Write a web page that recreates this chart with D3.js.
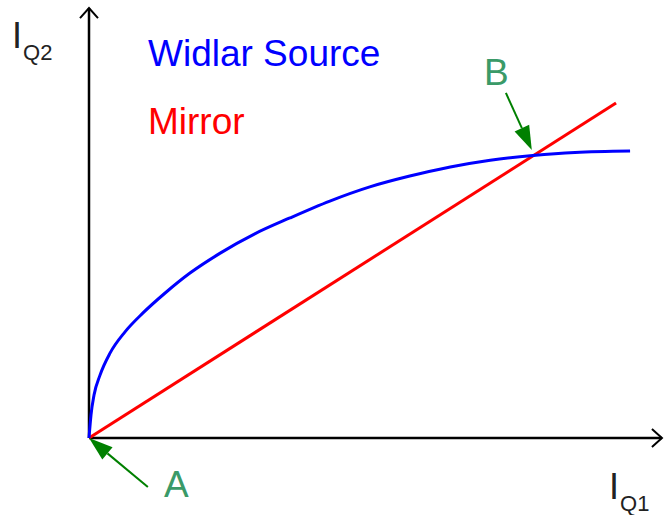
<!DOCTYPE html>
<html>
<head>
<meta charset="utf-8">
<script src="https://cdn.jsdelivr.net/npm/d3@7"></script>
<style>
  body { margin: 0; background: #fff; }
  text { font-family: "Liberation Sans", Arial, sans-serif; }
</style>
</head>
<body>
<svg width="664" height="515"></svg>
<script>
// blue curve (Widlar source), arbitrary units
let widlarX = [0, 0.37, 0.93, 2.04, 3.89, 6.67, 10.0, 14.1, 18.7, 24.3, 30.7, 37.2, 44.6, 52.0, 59.4, 66.9, 74.3, 82.2, 90.0, 100.2]
let widlarY = [0, 6.8, 12.7, 18.6, 25.1, 31.4, 37.0, 42.9, 48.8, 54.7, 60.4, 65.1, 70.1, 74.3, 77.5, 80.2, 82.2, 83.6, 84.5, 84.9]

// red line (mirror)
let mirrorX = [0, 97.6]
let mirrorY = [0, 99.1]

// annotation arrows: [tailX, tailY, tipX, tipY]
let arrowA = [10.9, -14.5, 0, 0]
let arrowB = [77.2, 102.1, 82.0, 85.2]

let svg = d3.select('svg')

let scale = {
    x: d3.scaleLinear().domain([0, 100]).range([89, 629]),
    y: d3.scaleLinear().domain([0, 100]).range([438, 100])
}

let axisEnd = { x: 106.1, y: 127.2 }

// axes
let axes = svg.append('g')
    .attr('stroke', '#000')
    .attr('stroke-width', 2.5)
    .attr('fill', 'none')

axes.append('line')
    .attr('x1', scale.x(0)).attr('y1', scale.y(0))
    .attr('x2', scale.x(axisEnd.x)).attr('y2', scale.y(0))

axes.append('line')
    .attr('x1', scale.x(0)).attr('y1', scale.y(0))
    .attr('x2', scale.x(0)).attr('y2', scale.y(axisEnd.y))

// open arrow heads
let xe = scale.x(axisEnd.x), y0 = scale.y(0)
axes.append('path')
    .attr('stroke-width', 2)
    .attr('d', `M${xe - 10},${y0 - 9}L${xe},${y0}L${xe - 10},${y0 + 9}`)
let x0 = scale.x(0), ye = scale.y(axisEnd.y)
axes.append('path')
    .attr('stroke-width', 2)
    .attr('d', `M${x0 - 9},${ye + 10}L${x0},${ye}L${x0 + 9},${ye + 10}`)

// curves
let line = d3.line()
    .x(d => scale.x(d[0]))
    .y(d => scale.y(d[1]))

svg.append('path')
    .datum(d3.zip(mirrorX, mirrorY))
    .attr('fill', 'none')
    .attr('stroke', '#ff0000')
    .attr('stroke-width', 3)
    .attr('d', line)

svg.append('path')
    .datum(d3.zip(widlarX, widlarY))
    .attr('fill', 'none')
    .attr('stroke', '#0000ff')
    .attr('stroke-width', 3)
    .attr('d', line.curve(d3.curveMonotoneX))

// green arrows
function drawArrow(a) {
    let tx = scale.x(a[0]), ty = scale.y(a[1])
    let hx = scale.x(a[2]), hy = scale.y(a[3])
    let ang = Math.atan2(hy - ty, hx - tx)
    let len = 24, half = 8
    let bx = hx - len * Math.cos(ang), by = hy - len * Math.sin(ang)
    svg.append('line')
        .attr('x1', tx).attr('y1', ty)
        .attr('x2', bx).attr('y2', by)
        .attr('stroke', '#008000')
        .attr('stroke-width', 2)
    let px = -Math.sin(ang) * half, py = Math.cos(ang) * half
    svg.append('path')
        .attr('fill', '#008000')
        .attr('d', `M${hx},${hy}L${bx + px},${by + py}L${bx - px},${by - py}Z`)
}
drawArrow(arrowA)
drawArrow(arrowB)

// labels
svg.append('text')
    .attr('x', 148).attr('y', 66)
    .attr('font-size', 37)
    .attr('fill', '#0000ff')
    .text('Widlar Source')

svg.append('text')
    .attr('x', 148).attr('y', 134)
    .attr('font-size', 37)
    .attr('fill', '#ff0000')
    .text('Mirror')

svg.append('text')
    .attr('x', 164).attr('y', 497)
    .attr('font-size', 37)
    .attr('fill', '#3a9a68')
    .text('A')

svg.append('text')
    .attr('x', 484).attr('y', 85)
    .attr('font-size', 37)
    .attr('fill', '#3a9a68')
    .text('B')

// axis titles with subscript
function axisTitle(x, y, sub) {
    let t = svg.append('text')
        .attr('x', x).attr('y', y)
        .attr('fill', '#222')
    t.append('tspan').attr('font-size', 36).text('I')
    t.append('tspan').attr('font-size', 22).attr('dx', 1).attr('dy', 12).text(sub)
}
axisTitle(12, 48, 'Q2')
axisTitle(609, 499, 'Q1')
</script>
</body>
</html>
